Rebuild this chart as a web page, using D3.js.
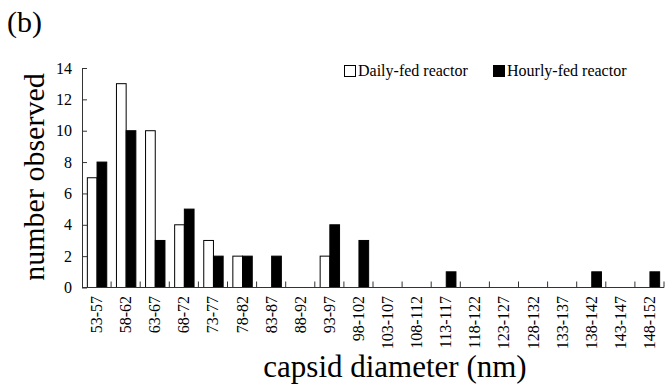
<!DOCTYPE html>
<html>
<head>
<meta charset="utf-8">
<script src="https://cdn.jsdelivr.net/npm/d3@7"></script>
<style>
  html, body { margin: 0; padding: 0; background: #fff; }
  svg { display: block; font-family: "Liberation Serif", "Times New Roman", serif; }
</style>
</head>
<body>
<svg id="chart" width="665" height="391"></svg>
<script>
// Capsid diameter bins (nm)
const categories = ["53-57", "58-62", "63-67", "68-72", "73-77", "78-82", "83-87", "88-92",
  "93-97", "98-102", "103-107", "108-112", "113-117", "118-122", "123-127", "128-132",
  "133-137", "138-142", "143-147", "148-152"];
// Number of capsids observed in each bin
const dailyFed  = [7, 13, 10, 4, 3, 2, 0, 0, 2, 0, 0, 0, 0, 0, 0, 0, 0, 0, 0, 0];
const hourlyFed = [8, 10, 3, 5, 2, 2, 2, 0, 4, 3, 0, 0, 1, 0, 0, 0, 0, 1, 0, 1];
const seriesNames = ["Daily-fed reactor", "Hourly-fed reactor"];
const yTicks = [0, 2, 4, 6, 8, 10, 12, 14];

const svg = d3.select("#chart");
const plot = { left: 82, right: 664, top: 68, bottom: 287.5 };

const x = d3.scaleBand().domain(categories).range([plot.left, plot.right]).padding(0);
const xInner = d3.scaleBand().domain(seriesNames).range([0, x.bandwidth()])
  .paddingInner(0).paddingOuter(0.5);
const y = d3.scaleLinear().domain([0, 14]).range([plot.bottom, plot.top]);

const fills = { "Daily-fed reactor": "#fff", "Hourly-fed reactor": "#000" };
const rows = categories.map((c, i) => ({ cat: c, values: [
  { name: seriesNames[0], v: dailyFed[i] },
  { name: seriesNames[1], v: hourlyFed[i] } ] }));

// Bars
const groups = svg.append("g").selectAll("g").data(rows).join("g")
  .attr("transform", d => `translate(${x(d.cat)},0)`);
groups.selectAll("rect").data(d => d.values.filter(e => e.v > 0)).join("rect")
  .attr("x", d => xInner(d.name) + 0.5)
  .attr("width", xInner.bandwidth())
  .attr("y", d => y(d.v))
  .attr("height", d => y(0) - y(d.v))
  .attr("fill", d => fills[d.name])
  .attr("stroke", "#000")
  .attr("stroke-width", 1);

// Y axis with inward ticks
const yAxis = svg.append("g")
  .attr("transform", `translate(${plot.left},0)`)
  .call(d3.axisLeft(y).tickValues(yTicks).tickSizeInner(-5).tickSizeOuter(0).tickPadding(10));
yAxis.attr("font-family", null);
yAxis.select(".domain").attr("stroke", "#333");
yAxis.selectAll(".tick line").attr("stroke", "#333");
yAxis.selectAll(".tick text").attr("font-size", 16).attr("fill", "#000");

// X axis: baseline, tick marks between bins, rotated bin labels
const xAxis = svg.append("g").attr("transform", `translate(0,${plot.bottom})`);
xAxis.append("line").attr("x1", plot.left).attr("x2", plot.right)
  .attr("stroke", "#333");
xAxis.selectAll("line.tk").data(categories).join("line").attr("class", "tk")
  .attr("x1", d => x(d) + x.bandwidth()).attr("x2", d => x(d) + x.bandwidth())
  .attr("y1", 0).attr("y2", -6).attr("stroke", "#333");
xAxis.selectAll("text").data(categories).join("text")
  .attr("transform", d => `translate(${x(d) + x.bandwidth() / 2 + 5.5},8.5) rotate(-90)`)
  .attr("text-anchor", "end")
  .attr("font-size", 16)
  .text(d => d);

// Axis titles
svg.append("text")
  .attr("transform", "translate(44,177) rotate(-90)")
  .attr("text-anchor", "middle")
  .attr("font-size", 30)
  .text("number observed");
svg.append("text")
  .attr("x", 395).attr("y", 377)
  .attr("text-anchor", "middle")
  .attr("font-size", 31)
  .text("capsid diameter (nm)");

// Panel label
svg.append("text").attr("x", 7).attr("y", 32).attr("font-size", 30).text("(b)");

// Legend
const legend = svg.append("g").selectAll("g").data(seriesNames).join("g")
  .attr("transform", (d, i) => `translate(${i === 0 ? 344 : 493},65)`);
legend.append("rect").attr("x", 0.5).attr("y", 0.5).attr("width", 11).attr("height", 11)
  .attr("fill", d => fills[d]).attr("stroke", "#000");
legend.append("text").attr("x", 14).attr("y", 11).attr("font-size", 16).text(d => d);
</script>
</body>
</html>
